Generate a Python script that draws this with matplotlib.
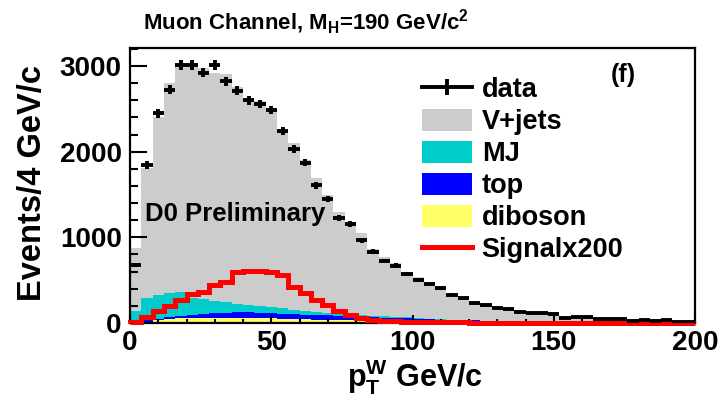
import numpy as np
import matplotlib
matplotlib.use("Agg")
import matplotlib.pyplot as plt
from matplotlib.ticker import MultipleLocator
from matplotlib.patches import Patch
from matplotlib.lines import Line2D

plt.rcParams['font.family'] = ['Liberation Sans', 'DejaVu Sans']
plt.rcParams['font.weight'] = 'bold'
plt.rcParams['mathtext.fontset'] = 'custom'
plt.rcParams['mathtext.rm'] = 'Liberation Sans:bold'
plt.rcParams['mathtext.bf'] = 'Liberation Sans:bold'
plt.rcParams['mathtext.it'] = 'Liberation Sans:bold'
plt.rcParams['mathtext.default'] = 'bf'

# 4 GeV bins from 0 to 200
bin_edges = np.arange(0, 204, 4)

data = [680, 1844, 2447, 2724, 3010, 3010, 2920, 3010, 2820, 2710,
        2600, 2558, 2485, 2240, 2030, 1872, 1608, 1447, 1221, 1154,
        966, 830, 723, 670, 573, 500, 460, 405, 330, 288,
        228, 205, 178, 160, 132, 120, 120, 105, 55, 74,
        74, 47, 47, 47, 23, 35, 23, 40, 15, 15]

diboson = [5, 15, 35, 45, 55, 55, 55, 55, 55, 55,
           55, 55, 55, 52, 50, 45, 38, 36, 34, 30,
           25, 20, 18, 16, 15, 14, 12, 10, 9, 8,
           7, 6, 6, 5, 5, 4, 4, 4, 3, 3,
           3, 2, 2, 2, 2, 2, 1, 1, 1, 1]

top = [10, 20, 12, 29, 30, 33, 46, 58, 65, 73,
       70, 65, 63, 56, 50, 49, 54, 52, 46, 40,
       37, 46, 46, 44, 41, 36, 33, 30, 27, 26,
       23, 20, 18, 17, 15, 14, 13, 12, 11, 9,
       8, 8, 7, 6, 5, 4, 4, 4, 3, 3]

mj = [125, 253, 283, 280, 281, 202, 174, 147, 120, 97,
      87, 80, 67, 62, 55, 46, 38, 34, 35, 35,
      33, 19, 16, 15, 12, 10, 7, 5, 4, 2,
      2, 2, 1, 1, 1, 1, 1, 1, 1, 1,
      1, 1, 1, 1, 1, 1, 1, 1, 1, 1]

vjets = [740, 1520, 2077, 2446, 2656, 2732, 2697, 2653, 2665, 2535,
         2410, 2390, 2320, 2082, 1942, 1762, 1558, 1372, 1184, 1077,
         955, 778, 694, 622, 531, 473, 430, 360, 298, 252,
         217, 182, 158, 138, 120, 107, 99, 86, 68, 64,
         58, 46, 42, 37, 31, 29, 24, 23, 17, 16]

signal_x200 = [15, 74, 140, 198, 268, 338, 366, 443, 482, 590,
               612, 610, 600, 560, 415, 350, 270, 210, 140, 93,
               55, 30, 25, 20, 17, 14, 12, 10, 8, 6,
               4, 4, 3, 3, 3, 2, 2, 2, 2, 2,
               1, 1, 1, 1, 1, 1, 1, 1, 1, 1]

components = [
    (diboson, '#ffff66', 'diboson'),
    (top, '#0000ff', 'top'),
    (mj, '#00cccc', 'MJ'),
    (vjets, '#cccccc', 'V+jets'),
]

fig = plt.figure(figsize=(7.25, 4.03), dpi=100)
ax = fig.add_axes([130 / 725, 80 / 403, 565 / 725, 275 / 403])

# stacked backgrounds
base = np.zeros(len(data))
for values, color, name in components:
    values = np.array(values, dtype=float)
    ax.stairs(base + values, bin_edges, baseline=base, fill=True,
              color=color, linewidth=0)
    base = base + values

# signal x200, drawn over the frame like ROOT does
ax.stairs(signal_x200, bin_edges, color='#ff0000', linewidth=3.6, baseline=0,
          zorder=3, clip_on=False)

# data points
centers = bin_edges[:-1] + 2
ax.errorbar(centers, data, xerr=2, yerr=np.sqrt(data), fmt='none',
            ecolor='black', elinewidth=2.8, capsize=0, zorder=5)

ax.set_xlim(0, 200)
ax.set_ylim(0, 3210)

ax.xaxis.set_major_locator(MultipleLocator(50))
ax.xaxis.set_minor_locator(MultipleLocator(10))
ax.yaxis.set_major_locator(MultipleLocator(1000))
ax.yaxis.set_minor_locator(MultipleLocator(200))
ax.tick_params(axis='y', which='major', direction='in', length=12, width=1.5,
               labelsize=20, pad=6)
ax.tick_params(axis='y', which='minor', direction='in', length=6, width=1.5)
ax.tick_params(axis='x', which='major', direction='in', length=6, width=1.5,
               labelsize=20, pad=5)
ax.tick_params(axis='x', which='minor', direction='in', length=3, width=1.5)
for lab in ax.get_xticklabels() + ax.get_yticklabels():
    lab.set_fontweight('bold')
for sp in ax.spines.values():
    sp.set_linewidth(1.6)

ax.text(-0.173, 0.51, 'Events/4 GeV/c', rotation=90, fontsize=23.5,
        fontweight='bold', ha='center', va='center', transform=ax.transAxes)
ax.text(0.504, -0.195, r'$\mathbf{p}_{\mathbf{T}}^{\mathbf{W}}$ GeV/c', fontsize=22,
        fontweight='bold', ha='center', va='center', transform=ax.transAxes)
fig.text(143 / 725, 1 - 22 / 403, r'Muon Channel, M$_{\mathbf{H}}$=190 GeV/c$^{\mathbf{2}}$',
         fontsize=16, fontweight='bold', ha='left', va='center')

ax.text(0.027, 0.396, 'D0 Preliminary', fontsize=18.5, fontweight='bold',
        ha='left', va='center', transform=ax.transAxes)
ax.text(0.873, 0.902, '(f)', fontsize=18, fontweight='bold',
        ha='center', va='center', transform=ax.transAxes)

handles = [Line2D([], [], color='black', linewidth=2.8, marker='|',
                  markersize=11, markeredgewidth=2.8),
           Patch(facecolor='#cccccc'),
           Patch(facecolor='#00cccc'),
           Patch(facecolor='#0000ff'),
           Patch(facecolor='#ffff66'),
           Line2D([], [], color='#ff0000', linewidth=3.6)]
labels = ['data', 'V+jets', 'MJ', 'top', 'diboson', 'Signalx200']
ax.legend(handles, labels, loc='upper left', bbox_to_anchor=(0.516, 0.895),
          frameon=False, handlelength=1.85, handleheight=0.89,
          handletextpad=0.37, labelspacing=0.2, borderpad=0, borderaxespad=0,
          prop={'weight': 'bold', 'size': 19.5})

fig.savefig('out.png', dpi=100)
